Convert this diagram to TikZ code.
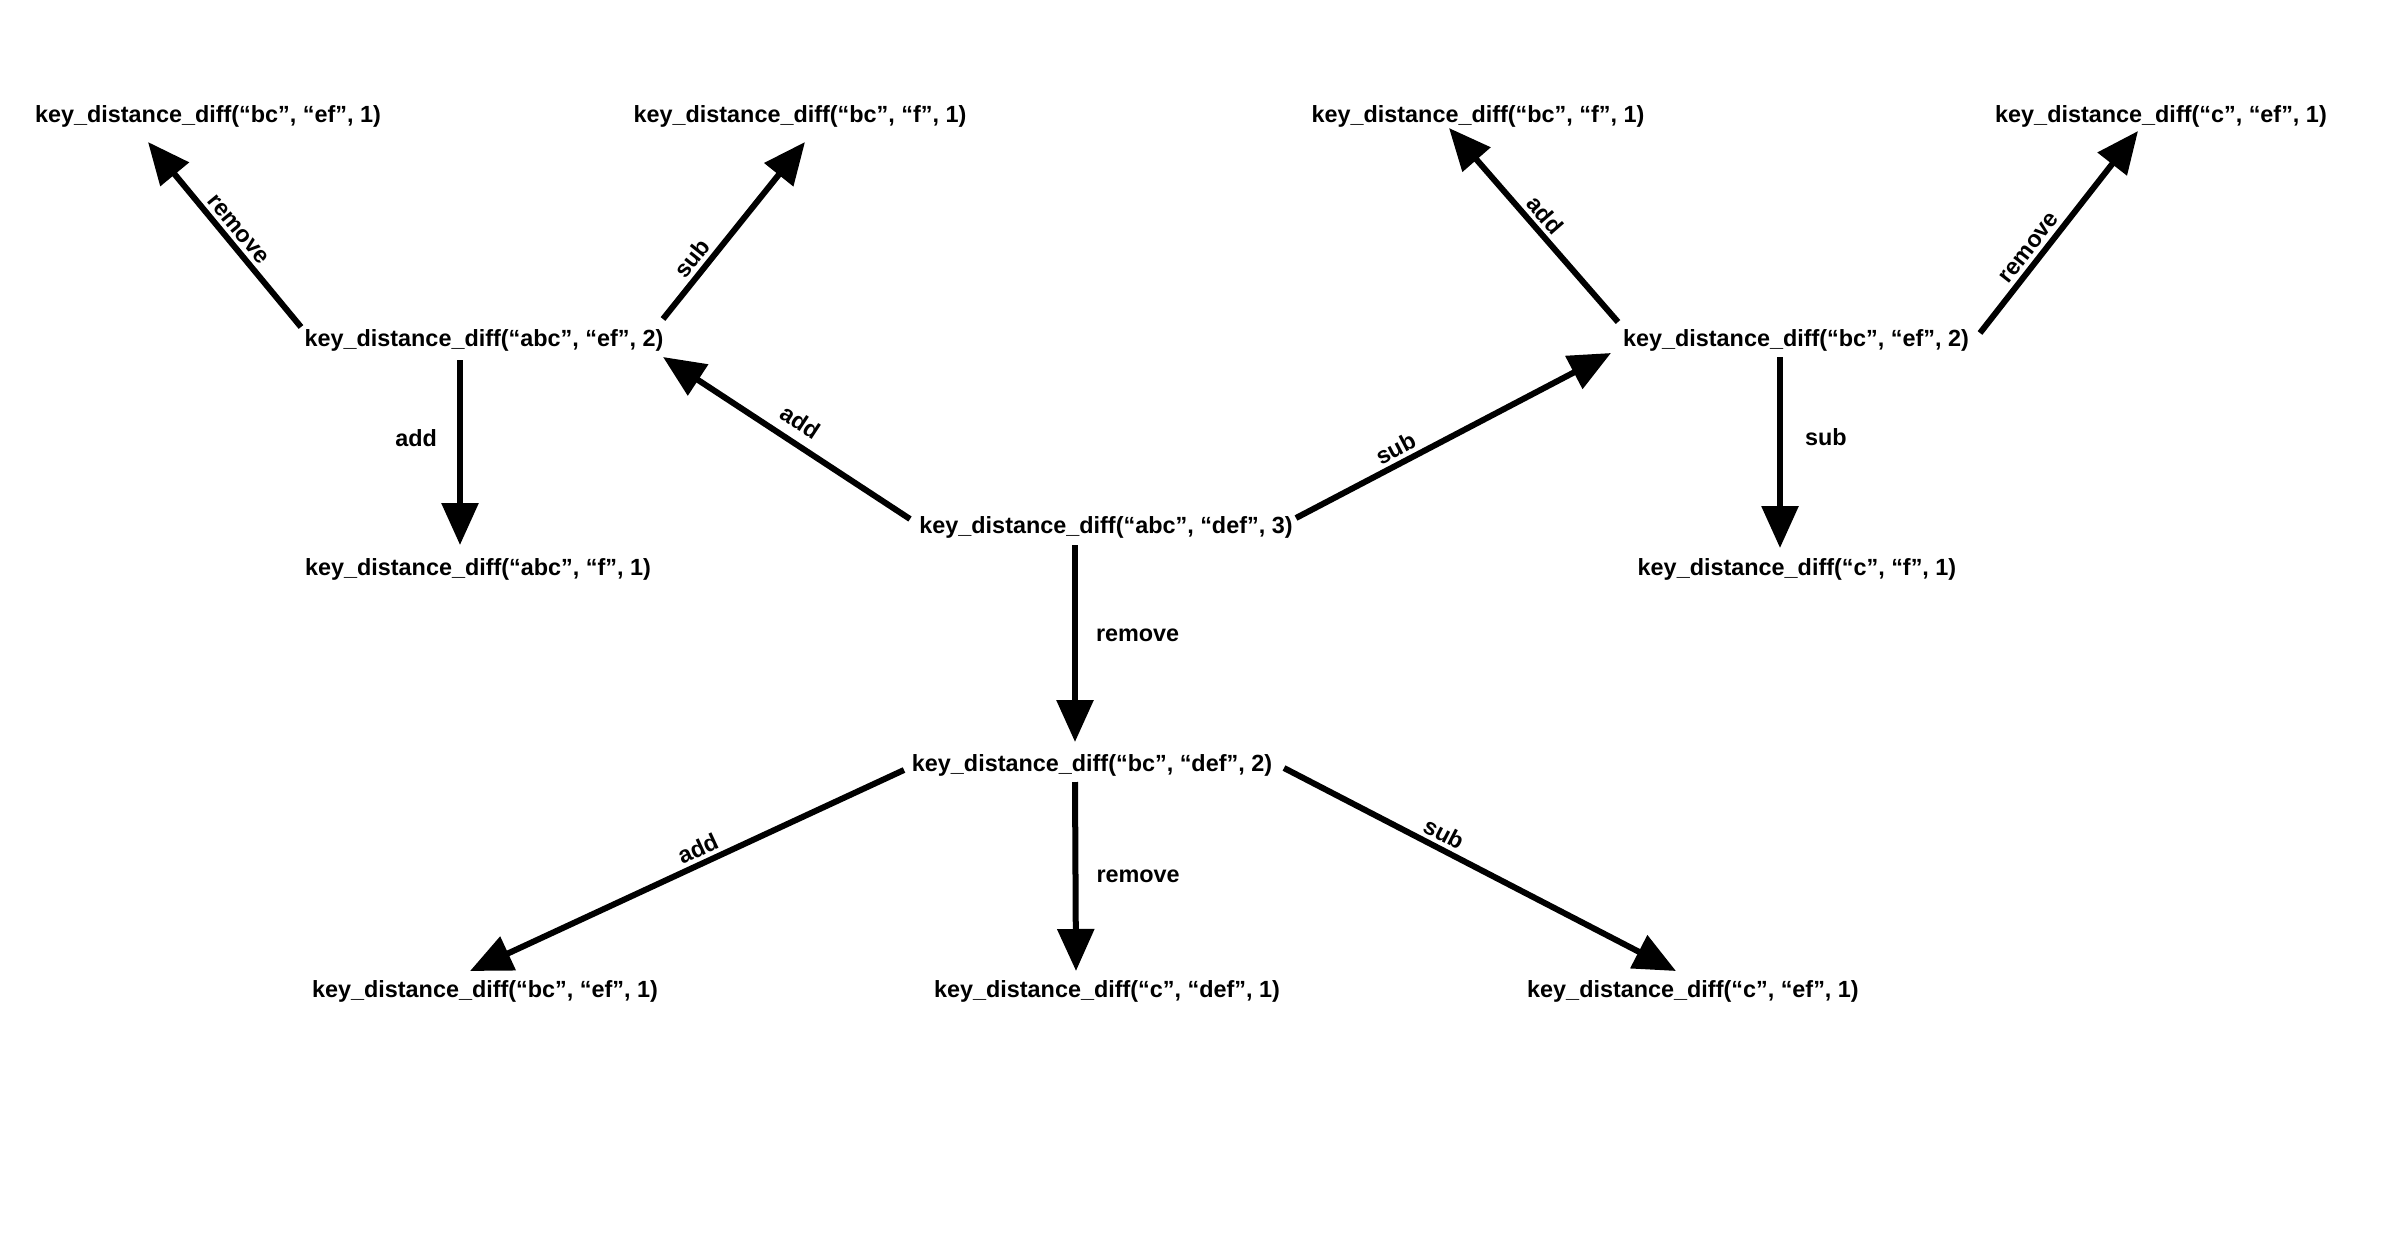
\documentclass[tikz,border=0pt]{standalone}
\usepackage{fontspec}
\setmainfont{Liberation Sans}
\usetikzlibrary{arrows.meta}
\begin{document}
\begin{tikzpicture}[x=0.5pt,y=-0.5pt,
  st/.style={font=\fontsize{11.7}{14}\selectfont\bfseries, inner sep=0pt},
  arr/.style={line width=3pt, -{Triangle[length=21pt,width=18pt]}},
  lbl/.style={font=\fontsize{11.7}{14}\selectfont\bfseries, inner sep=2pt}]
\useasboundingbox (0,0) rectangle (2394,1253);
\fill[white] (0,0) rectangle (2394,1253);
% nodes
\node[st] (A) at (208,116) {key\_distance\_diff(“bc”, “ef”, 1)};
\node[st] (B) at (800,116) {key\_distance\_diff(“bc”, “f”, 1)};
\node[st] (C) at (1478,116) {key\_distance\_diff(“bc”, “f”, 1)};
\node[st] (D) at (2161,116) {key\_distance\_diff(“c”, “ef”, 1)};
\node[st] (E) at (484,340) {key\_distance\_diff(“abc”, “ef”, 2)};
\node[st] (F) at (1796,340) {key\_distance\_diff(“bc”, “ef”, 2)};
\node[st] (G) at (1106,527) {key\_distance\_diff(“abc”, “def”, 3)};
\node[st] (H) at (478,569) {key\_distance\_diff(“abc”, “f”, 1)};
\node[st] (I) at (1797,569) {key\_distance\_diff(“c”, “f”, 1)};
\node[st] (J) at (1092,765) {key\_distance\_diff(“bc”, “def”, 2)};
\node[st] (K) at (485,991) {key\_distance\_diff(“bc”, “ef”, 1)};
\node[st] (L) at (1107,991) {key\_distance\_diff(“c”, “def”, 1)};
\node[st] (M) at (1693,991) {key\_distance\_diff(“c”, “ef”, 1)};
% edges
\draw[arr] ([shift={(-183,-13)}]E.center) -- node[lbl,sloped,above,pos=0.48]{remove} ([shift={(-60,26)}]A.center);
\draw[arr] ([shift={(179,-21)}]E.center) -- node[lbl,sloped,above,pos=0.29]{sub} ([shift={(5,26)}]B.center);
\draw[arr] ([shift={(-24,20)}]E.center) -- node[lbl,left=8pt,pos=0.42]{add} ([shift={(-18,-24)}]H.center);
\draw[arr] ([shift={(-196,-8)}]G.center) -- node[lbl,sloped,above=3pt,pos=0.49]{add} ([shift={(179,17)}]E.center);
\draw[arr] ([shift={(190,-9)}]G.center) -- node[lbl,sloped,above,pos=0.34]{sub} ([shift={(-185,13)}]F.center);
\draw[arr] ([shift={(-31,18)}]G.center) -- node[lbl,right=7pt,pos=0.46]{remove} ([shift={(-17,-23)}]J.center);
\draw[arr] ([shift={(-178,-18)}]F.center) -- node[lbl,sloped,above,pos=0.5]{add} ([shift={(-29,12)}]C.center);
\draw[arr] ([shift={(184,-7)}]F.center) -- node[lbl,sloped,above,pos=0.38]{remove} ([shift={(-23,15)}]D.center);
\draw[arr] ([shift={(-16,17)}]F.center) -- node[lbl,right=9pt,pos=0.42]{sub} ([shift={(-17,-21)}]I.center);
\draw[arr] ([shift={(-188,5)}]J.center) -- node[lbl,sloped,above,pos=0.46]{add} ([shift={(-15,-20)}]K.center);
\draw[arr] ([shift={(-17,17)}]J.center) -- node[lbl,right=7pt,pos=0.5]{remove} ([shift={(-31,-20)}]L.center);
\draw[arr] ([shift={(192,3)}]J.center) -- node[lbl,sloped,above=0pt,pos=0.39]{sub} ([shift={(-17,-20)}]M.center);
\end{tikzpicture}
\end{document}
